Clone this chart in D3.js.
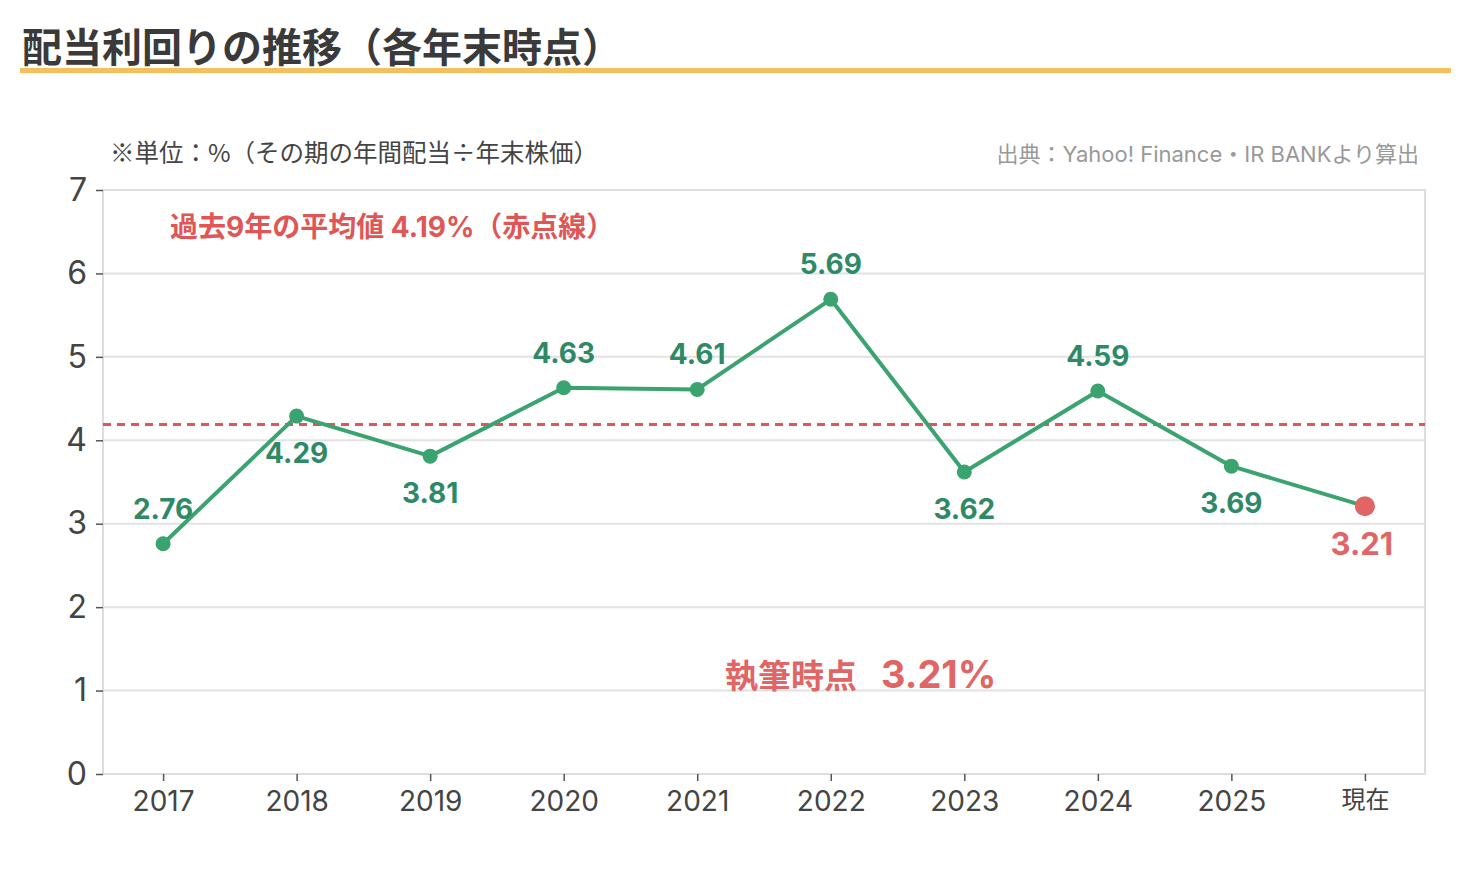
<!DOCTYPE html>
<html lang="ja">
<head>
<meta charset="UTF-8">
<title>配当利回りの推移</title>
<script src="https://d3js.org/d3.v7.min.js"></script>
<style>
  body { margin: 0; background: #fff; }
  svg text { font-family: Inter, "Noto Sans CJK JP", sans-serif; }
</style>
</head>
<body>
<svg width="1470" height="870"></svg>
<script>
// data
const periods = ["2017", "2018", "2019", "2020", "2021", "2022", "2023", "2024", "2025", "現在"];
const yields = [2.76, 4.29, 3.81, 4.63, 4.61, 5.69, 3.62, 4.59, 3.69, 3.21];
const labelPos = ["above", "below", "below", "above", "above", "above", "below", "above", "below", "below"];
const average = 4.19;
const yTicks = [0, 1, 2, 3, 4, 5, 6, 7];

const green = "#3ba370", greenText = "#2e8a66", red = "#e06666", avgRed = "#e05555";

const svg = d3.select("svg");
const m = { left: 103, right: 1425, top: 190, bottom: 774 };

// title + underline
svg.append("text").attr("x", 22).attr("y", 62)
  .attr("font-size", 40).attr("font-weight", 700).attr("fill", "#3a3a3a")
  .text("配当利回りの推移（各年末時点）");
svg.append("rect").attr("x", 20).attr("y", 68).attr("width", 1431).attr("height", 5).attr("fill", "#f5bf5e");

svg.append("text").attr("x", 110).attr("y", 162)
  .attr("font-size", 24.5).attr("fill", "#444")
  .style("font-family", "'Noto Sans CJK JP', sans-serif")
  .text("※単位：%（その期の年間配当÷年末株価）");
svg.append("text").attr("x", 1419).attr("y", 162).attr("text-anchor", "end")
  .attr("font-size", 22).attr("fill", "#999")
  .text("出典：Yahoo! Finance・IR BANKより算出");

const x = d3.scalePoint().domain(periods).range([m.left, m.right]).padding(0.45);
const y = d3.scaleLinear().domain([0, 7]).range([m.bottom, m.top]);

// grid
svg.append("g").selectAll("line").data(yTicks).join("line")
  .attr("x1", m.left).attr("x2", m.right)
  .attr("y1", d => y(d)).attr("y2", d => y(d))
  .attr("stroke", "#e2e2e2").attr("stroke-width", 2);

// frame
svg.append("rect").attr("x", m.left).attr("y", m.top)
  .attr("width", m.right - m.left).attr("height", m.bottom - m.top)
  .attr("fill", "none").attr("stroke", "#dddddd").attr("stroke-width", 2);

// axes
const yAxis = svg.append("g").attr("transform", `translate(${m.left},0)`)
  .call(d3.axisLeft(y).tickValues(yTicks).tickFormat(d3.format("d")).tickSize(7).tickPadding(9));
const xAxis = svg.append("g").attr("transform", `translate(0,${m.bottom})`)
  .call(d3.axisBottom(x).tickSize(7).tickPadding(10));
[yAxis, xAxis].forEach(g => {
  g.select(".domain").remove();
  g.selectAll("line").attr("stroke", "#555").attr("stroke-width", 1.5);
  g.selectAll("text").attr("fill", "#444")
    .style("font-family", "Inter, 'Noto Sans CJK JP', sans-serif");
});
yAxis.selectAll("text").attr("font-size", 32);
xAxis.selectAll("text").attr("font-size", d => /^\d+$/.test(d) ? 28 : 24);

// average line
svg.append("line").attr("x1", m.left).attr("x2", m.right)
  .attr("y1", y(average)).attr("y2", y(average))
  .attr("stroke", avgRed).attr("stroke-width", 3).attr("stroke-dasharray", "8,6");

svg.append("text").attr("x", 170).attr("y", 237)
  .attr("font-size", 28).attr("font-weight", 700).attr("fill", avgRed)
  .text("過去9年の平均値 4.19%（赤点線）");

// line
const pts = periods.map((p, i) => ({ p, v: yields[i], pos: labelPos[i], last: i === periods.length - 1 }));
svg.append("path").datum(pts)
  .attr("fill", "none").attr("stroke", green).attr("stroke-width", 4)
  .attr("stroke-linejoin", "round")
  .attr("d", d3.line().x(d => x(d.p)).y(d => y(d.v)));

svg.append("g").selectAll("circle").data(pts).join("circle")
  .attr("cx", d => x(d.p)).attr("cy", d => y(d.v))
  .attr("r", d => d.last ? 10 : 7.5)
  .attr("fill", d => d.last ? red : green);

svg.append("g").selectAll("text").data(pts).join("text")
  .attr("x", d => x(d.p) - (d.last ? 3 : 0))
  .attr("y", d => y(d.v) + (d.pos === "above" ? -25 : (d.last ? 49 : 47)))
  .attr("text-anchor", "middle")
  .attr("font-size", d => d.last ? 31 : 28).attr("font-weight", 700)
  .attr("fill", d => d.last ? red : greenText)
  .text(d => d.v.toFixed(2));

// current value note
const note = svg.append("text").attr("x", 725).attr("y", 688)
  .attr("font-weight", 700).attr("fill", red);
note.append("tspan").attr("font-size", 33).text("執筆時点");
note.append("tspan").attr("font-size", 38).attr("dx", 24).text("3.21%");
</script>
</body>
</html>
